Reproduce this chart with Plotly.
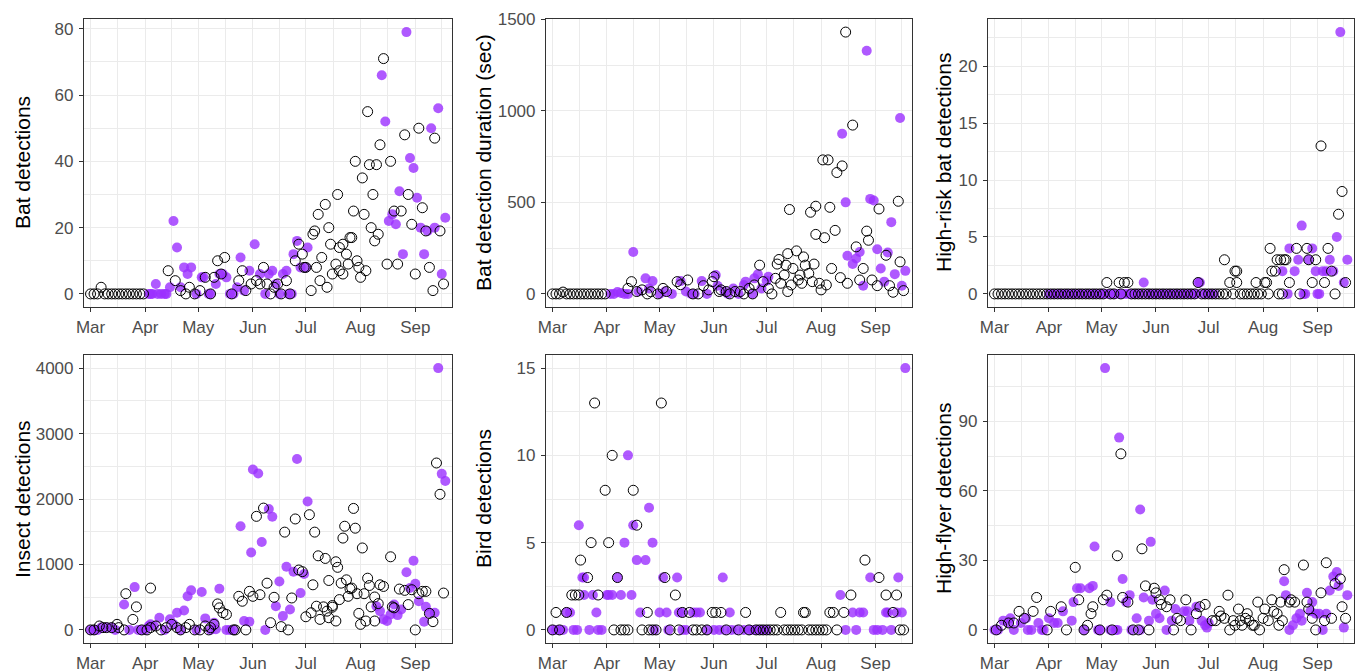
import pandas as pd
import plotly.graph_objects as go

# ---------------- data (days since 1 March; values per night) ----------------
season_start = "2023-03-01"
month_labels = ["Mar", "Apr", "May", "Jun", "Jul", "Aug", "Sep"]

# Bat detections
bat_b_day = [0,2,4,6,8,10,12,14,16,18,20,22,24,26,28,30,
             44,48,51,54,56,59,62,65,68,70,72,74,76,80,84,86,88,91,94,96,98,100,102,104,106,108,111,113,116,118,
             120,121,122,125,126,127,128,129,130,131,133,134,135,136,137,139,140,141,141,143,143,145,146,147,148,149,
             150,151,152,153,154,155,156,157,158,159,160,161,162,163,164,166,168,170,172,174,176,178,180,182,184,186,
             188,190,192,194,195,198,200]
bat_b_val = [0,0,0,2,0,0,0,0,0,0,0,0,0,0,0,0,
             7,4,1,0,2,0,1,5,0,5,10,6,11,0,4,7,1,3,4,3,8,3,0,2,3,0,4,0,10,15,
             12,8,8,1,18,19,8,24,4,11,27,2,20,15,6,9,30,14,7,15,6,12,9,17,17,25,
             40,10,8,5,35,24,7,55,39,20,30,16,39,18,45,71,9,40,25,9,25,48,30,21,6,50,
             26,19,8,1,47,19,3]
bat_p_day = [33,34,35,37,38,40,42,43,45,47,49,51,53,55,57,60,63,64,67,68,71,73,75,77,79,81,83,85,87,90,
             93,96,99,101,103,105,107,109,111,112,114,115,117,119,122,123,
             165,167,169,171,173,175,177,179,181,183,185,187,189,191,193,195,197,199,201]
bat_p_val = [0,0,0,3,0,0,0,0,2,22,14,2,8,6,8,0,5,5,0,0,3,6,6,5,0,0,2,11,1,7,
             15,6,0,6,7,3,0,6,7,0,0,12,16,8,8,14,
             66,52,22,24,21,31,12,79,41,38,29,20,12,19,50,20,56,6,23]

# Bat detection duration (sec)
dur_b_day = [0,2,4,6,8,10,12,14,16,18,20,22,24,26,28,30,
             43,45,48,51,54,56,60,63,65,71,73,77,80,83,86,89,91,92,95,96,99,101,104,107,109,112,114,115,118,120,
             123,125,127,128,129,130,132,133,134,134,135,136,137,139,140,141,142,143,144,146,147,148,149,150,150,152,
             153,154,155,156,157,158,159,161,162,164,165,167,168,171,173,175,177,179,180,182,185,186,190,192,
             194,197,198,200]
dur_b_val = [0,0,0,10,0,0,0,0,0,0,0,0,0,0,0,0,
             30,67,13,22,0,12,0,30,13,67,50,76,0,0,45,22,67,94,13,22,13,0,13,13,0,30,0,49,157,67,
             30,0,85,163,188,58,103,157,220,13,461,49,139,235,76,103,58,202,157,112,446,67,163,325,479,58,
             22,732,307,49,732,473,139,347,663,89,699,1430,58,922,257,76,139,343,293,76,45,464,211,45,
             9,506,175,18]
dur_p_day = [33,35,37,39,41,43,
             46,49,53,55,57,61,64,68,73,76,79,81,85,88,93,94,98,100,103,106,109,110,114,115,117,119,122,123,
             165,167,168,171,173,175,177,179,181,183,185,187,189,191,193,195,198,199,201]
dur_p_val = [0,0,10,5,0,0,
             229,13,85,30,70,0,13,0,70,13,0,0,70,0,103,45,13,0,30,0,49,67,0,85,107,30,72,94,
             875,500,208,163,193,229,45,1328,519,510,244,139,67,226,392,108,961,45,126]

# High-risk bat detections
hr_b_day = [0,2,4,6,8,10,12,14,16,18,20,22,24,26,28,30,32,34,36,38,40,42,44,46,48,50,52,54,56,58,60,62,
            64,66,68,71,72,74,76,
            78,80,82,84,86,88,90,92,94,96,98,100,102,104,106,108,110,112,114,
            116,118,120,122,124,126,128,130,
            131,132,134,136,137,138,138,140,142,144,146,148,
            149,150,152,154,155,156,157,158,160,161,162,163,164,165,166,168,172,174,178,179,181,183,186,188,
            190,192,194,196,198,200]
hr_b_val = [0,0,0,0,0,0,0,0,0,0,0,0,0,0,0,0,0,0,0,0,0,0,0,0,0,0,0,0,0,0,0,0,
            1,0,0,1,0,1,1,
            0,0,0,0,0,0,0,0,0,0,0,0,0,0,0,0,0,0,0,
            1,0,0,0,0,0,0,0,
            3,0,1,0,2,2,1,0,0,0,0,0,
            1,0,0,1,1,0,4,2,2,3,0,3,0,3,3,1,4,0,4,3,1,3,13,1,
            4,2,0,7,9,1]
hr_p_day = [31,33,35,37,39,41,43,45,47,49,51,53,55,57,59,61,63,65,67,69,71,73,75,77,79,81,83,
            85,87,89,91,93,95,97,99,101,103,105,107,109,111,113,115,116,117,119,121,123,125,
            164,167,168,171,173,175,176,177,179,181,183,184,185,187,189,191,193,195,197,199,201]
hr_p_val = [0,0,0,0,0,0,0,0,0,0,0,0,0,0,0,0,0,0,0,0,0,0,0,0,0,0,0,
            1,0,0,0,0,0,0,0,0,0,0,0,0,0,0,0,1,1,0,0,0,0,
            2,0,4,2,3,6,0,0,3,4,2,0,0,2,2,3,2,5,23,1,3]

# Insect detections
ins_b_day = [0,2,5,7,9,12,15,16,19,20,24,26,29,32,34,34,
             37,40,43,46,49,51,54,56,59,62,65,67,68,70,72,73,75,77,
             81,82,84,86,88,90,92,94,96,98,100,102,104,108,110,112,114,116,118,120,
             122,124,125,126,127,128,129,130,132,133,134,135,135,137,137,139,139,140,141,142,
             143,144,145,146,147,148,149,150,151,152,153,154,155,156,157,158,159,161,161,163,
             164,166,170,171,172,175,178,180,182,184,186,188,190,192,194,196,198,200]
ins_b_val = [0,0,60,35,35,35,85,35,0,553,160,352,0,0,639,35,
             60,0,35,85,35,0,35,85,0,0,60,0,35,85,397,337,262,236,
             0,0,513,438,0,589,513,1735,538,1861,714,110,498,50,1494,0,488,1695,915,890,
             201,1760,262,689,1494,362,1132,161,352,1092,287,186,755,347,372,136,1041,956,463,714,
             1403,1584,765,513,629,639,1856,1554,553,252,85,1252,553,136,790,679,352,503,136,402,
             689,664,1117,352,337,624,604,387,614,0,553,589,589,252,126,2550,2072,563]
ins_p_day = [0,2,4,6,9,12,14,19,22,25,27,29,31,33,34,
             36,39,42,45,47,49,51,53,55,57,60,63,65,68,70,71,73,77,79,81,
             85,87,90,91,92,95,97,99,101,103,105,107,109,111,113,115,117,119,121,123,
             162,164,166,168,170,172,174,176,179,181,183,184,186,189,190,192,195,197,199,201]
ins_p_val = [0,0,0,35,35,35,0,387,0,654,0,0,0,60,85,
             60,186,0,161,85,262,0,297,513,604,0,578,176,0,110,10,629,0,0,0,
             1584,136,126,1182,2450,2389,1343,0,1846,1730,362,739,211,966,312,890,2610,563,855,1962,
             362,287,161,136,236,387,226,312,880,639,1056,704,438,126,352,262,262,4000,2384,2274]

# Bird detections
bird_b_day = [0,2,4,8,11,13,15,16,20,22,24,26,30,32,34,35,37,39,41,43,
              46,48,51,54,55,57,59,62,64,67,70,72,74,78,80,82,85,88,91,93,
              96,99,106,110,112,116,118,120,122,124,126,128,130,132,134,136,138,140,142,143,
              144,146,148,150,152,154,156,158,160,162,166,170,178,186,190,194,196,198,200]
bird_b_val = [0,1,0,1,2,2,2,4,3,5,13,2,8,5,10,0,3,0,0,0,
              8,6,0,1,0,0,0,13,3,0,2,0,1,1,0,0,0,0,1,1,
              1,0,0,1,0,0,0,0,0,0,0,0,1,0,0,0,0,0,0,1,
              1,0,0,0,0,0,0,1,1,0,1,2,4,3,2,1,2,0,0]
bird_p_day = [0,2,4,6,8,10,12,14,15,17,18,18,21,23,25,26,28,31,32,34,
              37,39,41,43,45,46,48,50,53,55,57,58,61,63,65,66,71,72,74,74,
              76,80,82,84,88,92,95,97,98,101,102,105,109,112,114,116,118,120,122,
              164,167,171,173,175,177,181,183,185,188,190,191,193,196,197,199,201]
bird_p_val = [0,0,0,0,1,1,0,0,6,3,3,2,0,2,1,0,0,2,2,2,
              3,2,5,10,2,6,4,1,4,7,5,0,1,3,1,0,3,1,1,0,
              0,1,1,1,0,0,0,3,0,1,0,0,0,0,0,0,0,0,0,
              2,0,1,0,1,1,3,0,0,0,1,1,0,1,3,1,15]

# High-flyer detections
hf_b_day = [1,4,8,11,14,17,22,24,30,32,38,41,46,48,51,53,55,56,60,62,
            64,67,70,72,73,76,79,82,84,86,88,91,92,94,95,98,100,102,104,106,
            109,112,115,117,120,124,126,128,129,131,133,134,136,137,139,140,141,143,144,145,
            147,148,150,151,153,154,156,158,159,161,162,163,164,165,168,169,171,176,178,179,
            181,183,186,188,189,192,194,197,198,200]
hf_b_val = [0,2,3,3,8,5,8,14,0,8,10,0,27,13,0,2,7,10,0,13,
            15,0,32,76,14,12,0,0,35,19,0,18,16,13,11,10,13,0,5,4,
            13,0,7,10,11,4,4,8,6,5,15,0,4,2,9,4,2,5,7,4,
            2,2,12,0,5,9,4,13,8,7,2,12,4,26,12,13,12,28,12,9,
            5,0,16,4,29,5,20,22,10,5]
hf_p_day = [0,2,5,8,9,11,15,18,19,21,25,27,28,31,34,36,39,44,45,47,
            49,51,54,56,57,59,60,63,66,66,69,70,71,73,75,77,78,81,83,83,
            85,89,88,90,92,94,97,98,101,103,108,110,111,115,118,120,121,122,
            165,166,168,170,172,174,175,178,180,181,183,185,187,189,191,193,195,196,199,201]
hf_p_val = [0,0,4,3,5,0,3,5,0,0,3,0,0,5,3,3,8,4,12,18,
            18,0,18,19,36,0,0,113,12,0,0,0,83,22,12,15,0,5,0,52,
            14,38,4,13,7,5,17,0,4,9,8,8,4,10,4,2,1,3,
            21,15,0,2,5,7,4,16,8,12,7,7,0,7,17,23,25,19,1,15]

panel_titles = ["Bat detections", "Bat detection duration (sec)", "High-risk bat detections",
                "Insect detections", "Bird detections", "High-flyer detections"]
panel_dticks = [20, 500, 5, 1000, 5, 30]

# ---------------- layout geometry ----------------
W, H = 1360, 671
x_domains_px = [(84, 452), (546, 912), (988, 1354)]
y_domains_px = [(19, 307), (355, 643)]
title_x_px = [22, 483, 943]

panels = [
    (bat_b_day, bat_b_val, bat_p_day, bat_p_val),
    (dur_b_day, dur_b_val, dur_p_day, dur_p_val),
    (hr_b_day, hr_b_val, hr_p_day, hr_p_val),
    (ins_b_day, ins_b_val, ins_p_day, ins_p_val),
    (bird_b_day, bird_b_val, bird_p_day, bird_p_val),
    (hf_b_day, hf_b_val, hf_p_day, hf_p_val),
]

base = pd.Timestamp(season_start)
def to_dates(days):
    return base + pd.to_timedelta(days, unit="D")

month_starts = pd.date_range(season_start, periods=8, freq="MS")
major_ticks = list(month_starts[:7])
minor_ticks = [month_starts[i] + (month_starts[i + 1] - month_starts[i]) / 2 for i in range(7)]
x_range = [base + pd.Timedelta(days=-3.7), base + pd.Timedelta(days=204.8)]

PURPLE = "rgba(155,48,255,0.8)"
GRID = "#EBEBEB"
AXIS = "#333333"
FONT = "Liberation Sans, Arial, sans-serif"

fig = go.Figure()
annotations = []
layout_axes = {}

for i, (bd, bv, pd_, pv) in enumerate(panels):
    r, c = divmod(i, 3)
    n = i + 1
    xa = "x" if n == 1 else f"x{n}"
    ya = "y" if n == 1 else f"y{n}"
    fig.add_trace(go.Scatter(x=to_dates(pd_), y=pv, xaxis=xa, yaxis=ya, mode="markers",
                             marker=dict(size=10, color=PURPLE, line=dict(width=0)),
                             showlegend=False, hoverinfo="x+y"))
    fig.add_trace(go.Scatter(x=to_dates(bd), y=bv, xaxis=xa, yaxis=ya, mode="markers",
                             marker=dict(size=10, symbol="circle-open", color="black",
                                         line=dict(width=1, color="black")),
                             showlegend=False, hoverinfo="x+y"))
    allv = list(bv) + list(pv)
    lo, hi = min(allv), max(allv)
    pad = 0.05 * (hi - lo)
    x0, x1 = x_domains_px[c]
    y0, y1 = y_domains_px[r]
    xdom = [x0 / W, x1 / W]
    ydom = [1 - y1 / H, 1 - y0 / H]
    key_x = "xaxis" if n == 1 else f"xaxis{n}"
    key_y = "yaxis" if n == 1 else f"yaxis{n}"
    layout_axes[key_x] = dict(
        domain=xdom, anchor=ya, type="date", range=x_range, automargin=False,
        tickmode="array", tickvals=major_ticks, ticktext=month_labels,
        showgrid=True, gridcolor=GRID, gridwidth=1.3,
        minor=dict(tickmode="array", tickvals=minor_ticks, showgrid=True, gridcolor=GRID, gridwidth=0.7, ticks=""),
        showline=True, mirror=True, linecolor=AXIS, linewidth=1.2,
        ticks="outside", ticklen=4, tickwidth=1.2, tickcolor=AXIS,
        tickfont=dict(size=17, color="#4D4D4D", family=FONT), zeroline=False,
    )
    layout_axes[key_y] = dict(
        domain=ydom, anchor=xa, range=[lo - pad, hi + pad], automargin=False,
        tick0=0, dtick=panel_dticks[i],
        showgrid=True, gridcolor=GRID, gridwidth=1.3,
        minor=dict(tick0=panel_dticks[i] / 2, dtick=panel_dticks[i], showgrid=True, gridcolor=GRID,
                   gridwidth=0.7, ticks=""),
        showline=True, mirror=True, linecolor=AXIS, linewidth=1.2,
        ticks="outside", ticklen=4, tickwidth=1.2, tickcolor=AXIS,
        tickfont=dict(size=17, color="#4D4D4D", family=FONT), zeroline=False,
        ticklabelstandoff=2,
    )
    annotations.append(dict(
        text=panel_titles[i], x=title_x_px[c] / W, y=1 - (y0 + y1) / 2 / H,
        xref="paper", yref="paper", xanchor="center", yanchor="middle",
        textangle=-90, showarrow=False, font=dict(size=21, color="black", family=FONT),
    ))

fig.update_layout(
    template="none",
    width=W, height=H, margin=dict(l=0, r=0, t=0, b=0, autoexpand=False),
    paper_bgcolor="white", plot_bgcolor="white",
    annotations=annotations, font=dict(family=FONT), **layout_axes,
)

fig.write_html("out.html", config={"displayModeBar": False},
               post_script="document.body.style.margin='0';document.body.style.overflow='hidden';")
